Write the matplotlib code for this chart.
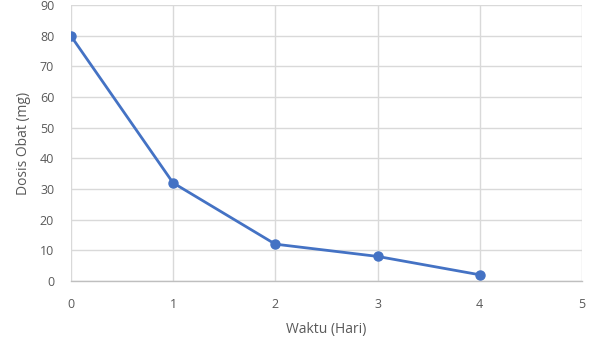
import matplotlib
matplotlib.use('Agg')
import matplotlib.pyplot as plt

# data
hari = [0, 1, 2, 3, 4]
dosis = [80, 32, 12, 8, 2]
x_ticks = [0, 1, 2, 3, 4, 5]
y_ticks = [0, 10, 20, 30, 40, 50, 60, 70, 80, 90]

plt.rcParams['font.family'] = ['Open Sans', 'DejaVu Sans']

fig = plt.figure(figsize=(6, 3.43), dpi=100)
ax = fig.add_axes([0.118, 0.181, 0.852, 0.804])

ax.plot(hari, dosis, color='#4472C4', linewidth=2, marker='o', markersize=6.5, zorder=3)

ax.set_xlim(0, 5)
ax.set_ylim(0, 90)
ax.set_xticks(x_ticks)
ax.set_yticks(y_ticks)
ax.grid(True, color='#d9d9d9', linewidth=1)
ax.set_axisbelow(True)

for s in ['top', 'right', 'left']:
    ax.spines[s].set_visible(False)
ax.spines['bottom'].set_color('#bfbfbf')
ax.spines['bottom'].set_linewidth(1)

ax.tick_params(axis='both', length=0, labelsize=9, labelcolor='#595959')
ax.tick_params(axis='x', pad=12)
ax.tick_params(axis='y', pad=12)
for lbl in ax.get_yticklabels():
    lbl.set_horizontalalignment('right')

ax.set_xlabel('Waktu (Hari)', fontsize=10, color='#595959', labelpad=8)
ax.set_ylabel('Dosis Obat (mg)', fontsize=10, color='#595959', labelpad=6)

fig.savefig('out.png', dpi=100)
